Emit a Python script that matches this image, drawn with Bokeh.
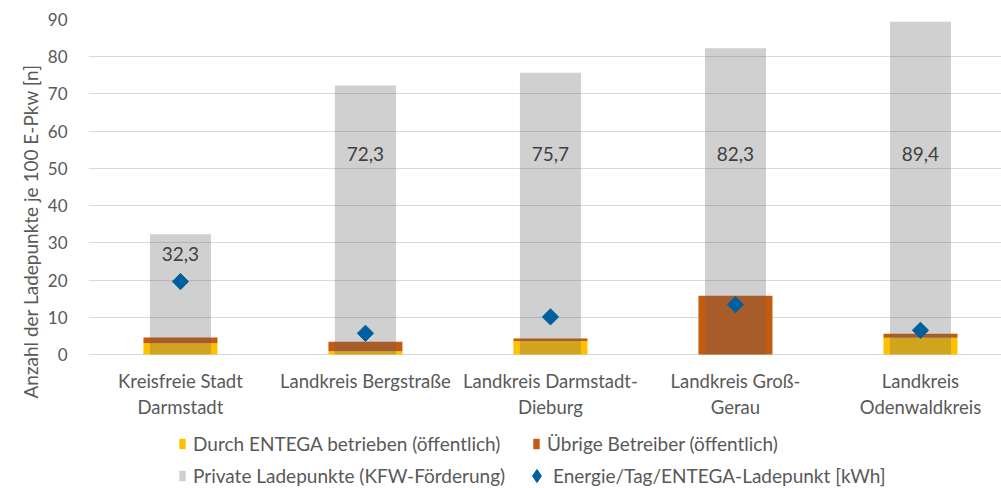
import math
from bokeh.plotting import figure
from bokeh.models import (ColumnDataSource, Range1d, FixedTicker, Legend, LegendItem,
                          LabelSet, Title)
from bokeh.core.properties import value
from bokeh.embed import file_html
from bokeh.resources import INLINE

# ---- data ----
categories = ["Kreisfreie Stadt\nDarmstadt", "Landkreis Bergstraße",
              "Landkreis Darmstadt-\nDieburg", "Landkreis Groß-\nGerau",
              "Landkreis\nOdenwaldkreis"]
entega = [3.0, 0.9, 3.6, 0.0, 4.5]          # Durch ENTEGA betrieben (öffentlich)
uebrige = [1.6, 2.5, 0.7, 15.8, 1.1]        # Übrige Betreiber (öffentlich)
private = [32.3, 72.3, 75.7, 82.3, 89.4]    # Private Ladepunkte (KFW-Förderung)
energie = [19.6, 5.7, 10.1, 13.4, 6.5]      # Energie/Tag/ENTEGA-Ladepunkt [kWh]
private_labels = ["32,3", "72,3", "75,7", "82,3", "89,4"]
y_ticks = [0, 10, 20, 30, 40, 50, 60, 70, 80, 90]

FONT = "Lato"
TXT = "#595959"

xs = list(range(len(categories)))
src = ColumnDataSource(dict(
    x=xs,
    entega=entega,
    top_ueb=[a + b for a, b in zip(entega, uebrige)],
    private=private,
    energie=energie,
    lab=private_labels,
    laby=[min(v - 5.3, 54) for v in private],
))

# frame: 0..90 occupies the upper part; the area below 0 holds axis labels and legend
p = figure(width=1001, height=488, x_range=Range1d(-0.497, 4.438), y_range=Range1d(-36.0, 90),
           output_backend="svg", toolbar_location=None,
           min_border_left=88, min_border_right=0, min_border_top=19, min_border_bottom=0)
p.outline_line_color = None
p.xgrid.visible = False
p.ygrid.grid_line_color = "#D9D9D9"
p.ygrid.grid_line_width = 1

r_ent = p.vbar(x="x", width=0.40, bottom=0, top="entega", source=src,
               fill_color="#FFC000", line_color=None)
r_ueb = p.vbar(x="x", width=0.40, bottom="entega", top="top_ueb", source=src,
               fill_color="#C55A11", line_color=None)
r_priv = p.vbar(x="x", width=0.33, bottom=0, top="private", source=src,
                fill_color="#626262", fill_alpha=0.3, line_color=None)
r_en = p.scatter(x="x", y="energie", source=src, marker="square", angle=math.pi / 4,
                 size=11.5, fill_color="#005F9E", line_color="#005F9E")
# same series as a (hidden) diamond renderer, used only for the legend swatch
r_en_leg = p.scatter(x="x", y="energie", source=src, marker="diamond",
                     fill_color="#005F9E", line_color="#005F9E", visible=False)

labels = LabelSet(x="x", y="laby", text="lab", source=src, text_align="center",
                  text_baseline="middle", text_font=value(FONT), text_font_size="19px",
                  text_color="#404040")
p.add_layout(labels)

# y axis
p.yaxis.ticker = FixedTicker(ticks=y_ticks)
p.yaxis.axis_line_color = None
p.yaxis.major_tick_line_color = None
p.yaxis.minor_tick_line_color = None
p.yaxis.major_tick_out = 0
p.yaxis.major_tick_in = 0
p.yaxis.major_label_standoff = 21
p.yaxis.major_label_text_font = FONT
p.yaxis.major_label_text_font_size = "17px"
p.yaxis.major_label_text_color = TXT

ytitle = Title(text="Anzahl der Ladepunkte je 100 E-Pkw  [n]", align="left", offset=90,
               text_font=FONT, text_font_size="19px", text_font_style="normal",
               text_color=TXT, standoff=6)
p.add_layout(ytitle, "left")

# x axis drawn at y = 0
p.xaxis.fixed_location = 0
p.xaxis.ticker = FixedTicker(ticks=xs)
p.xaxis.major_label_overrides = {i: c for i, c in zip(xs, categories)}
p.xaxis.axis_line_color = None
p.xaxis.major_tick_line_color = None
p.xaxis.minor_tick_line_color = None
p.xaxis.major_tick_out = 0
p.xaxis.major_tick_in = 0
p.xaxis.major_label_standoff = 15
p.xaxis.major_label_text_font = FONT
p.xaxis.major_label_text_font_size = "18.5px"
p.xaxis.major_label_text_color = TXT


def add_legend(label, renderer, loc, gw, gh, standoff):
    lg = Legend(items=[LegendItem(label=label, renderers=[renderer])], location=loc,
                glyph_width=gw, glyph_height=gh, label_standoff=standoff,
                label_text_font=FONT, label_text_font_size="19px", label_text_color=TXT,
                label_height=13, padding=0, margin=0, spacing=0, click_policy="none",
                border_line_color=None, background_fill_alpha=0)
    p.add_layout(lg)

add_legend("Durch ENTEGA betrieben (öffentlich)", r_ent, (90, 33), 8, 13, 7)
add_legend("Übrige Betreiber (öffentlich)", r_ueb, (444, 33), 8, 13, 7)
add_legend("Private Ladepunkte (KFW-Förderung)", r_priv, (90, 1), 8, 13, 7)
add_legend("Energie/Tag/ENTEGA-Ladepunkt [kWh]", r_en_leg, (432, -4), 33, 33, -7)

open("out.html", "w").write(file_html(p, INLINE))
